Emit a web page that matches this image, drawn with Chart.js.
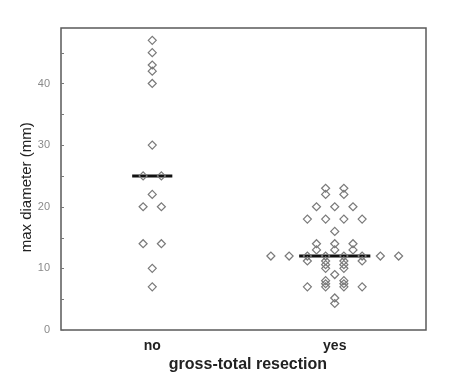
<!DOCTYPE html>
<html>
<head>
<meta charset="utf-8">
<script src="https://cdn.jsdelivr.net/npm/chart.js@4.4.1/dist/chart.umd.min.js"></script>
<style>
  html, body { margin: 0; padding: 0; background: #fff; }
  #wrap { width: 450px; height: 378px; }
</style>
</head>
<body>
<div id="wrap"><canvas id="chart"></canvas></div>
<script>
/* --- Data ---------------------------------------------------- */
const GROUPS = ['no', 'yes'];
const NO_VALUES = [47, 45, 43, 42, 40, 30, 25, 25, 22, 20, 20, 14, 14, 10, 7];
const YES_VALUES = [
  23, 23, 22, 22, 20, 20, 20, 18, 18, 18, 18, 16,
  14, 14, 14, 13, 13, 13,
  12, 12, 12, 12, 12, 12, 12, 12,
  11.2, 11.2, 11.2, 11.2, 10.6, 10.6, 10, 10, 9,
  8, 8, 7.5, 7.5, 7, 7, 7, 7, 5.2, 4.3
];
const Y_TICKS = [0, 5, 10, 15, 20, 25, 30, 35, 40, 45];

const FONT = 'Arial, "Liberation Sans", sans-serif';
const SLOT = 0.1;                  // horizontal gap between tied points
const MEDIAN_HALF = [0.11, 0.195]; // half length of median bars

/* --- Helpers ------------------------------------------------- */
// spread tied values side by side around the group position
function spread(values, pos) {
  const counts = {}, seen = {};
  values.forEach(v => counts[v] = (counts[v] || 0) + 1);
  return values.map(v => {
    seen[v] = seen[v] === undefined ? 0 : seen[v] + 1;
    return { x: pos + (seen[v] - (counts[v] - 1) / 2) * SLOT, y: v };
  });
}

function median(values) {
  const s = [...values].sort((a, b) => a - b);
  const m = Math.floor(s.length / 2);
  return s.length % 2 ? s[m] : (s[m - 1] + s[m]) / 2;
}

const SERIES = [NO_VALUES, YES_VALUES];

const pointSets = SERIES.map((vals, i) => ({
  type: 'scatter',
  data: spread(vals, i + 1),
  pointStyle: 'rectRot',
  pointRadius: 4,
  pointHoverRadius: 4,
  pointBorderWidth: 1.2,
  pointBorderColor: '#7a7a7a',
  pointBackgroundColor: 'rgba(0,0,0,0)',
  order: 1,
}));

const medianSets = SERIES.map((vals, i) => {
  const m = median(vals);
  return {
    type: 'line',
    data: [{ x: i + 1 - MEDIAN_HALF[i], y: m }, { x: i + 1 + MEDIAN_HALF[i], y: m }],
    borderColor: '#111',
    borderWidth: 3,
    pointRadius: 0,
    fill: false,
    order: 2,
  };
});

/* --- Frame + inner tick marks -------------------------------- */
const framePlugin = {
  id: 'frame',
  afterDraw(chart) {
    const { ctx, chartArea: a } = chart;
    const y = chart.scales.y;
    ctx.save();
    ctx.strokeStyle = '#5a5a5a';
    ctx.lineWidth = 1.5;
    ctx.strokeRect(a.left, a.top, a.right - a.left, a.bottom - a.top);
    ctx.lineWidth = 1;
    ctx.strokeStyle = '#777';
    ctx.beginPath();
    for (const t of y.ticks) {
      const py = Math.round(y.getPixelForValue(t.value)) + 0.5;
      ctx.moveTo(a.left, py);
      ctx.lineTo(a.left + 3, py);
    }
    ctx.stroke();
    ctx.restore();
  }
};

new Chart(document.getElementById('chart'), {
  data: { datasets: [...medianSets, ...pointSets] },
  options: {
    responsive: true,
    maintainAspectRatio: false,
    animation: false,
    layout: { padding: { top: 28, right: 24, left: 0, bottom: 0 } },
    plugins: { legend: { display: false }, tooltip: { enabled: false } },
    scales: {
      x: {
        type: 'linear',
        min: 0.5,
        max: 2.5,
        afterBuildTicks: s => { s.ticks = GROUPS.map((_, i) => ({ value: i + 1 })); },
        afterFit: s => { s.height = 48; },
        grid: { display: false },
        border: { display: false },
        ticks: {
          callback: v => GROUPS[v - 1],
          color: '#222',
          font: { family: FONT, size: 14, weight: 'bold' },
          padding: 0,
          maxRotation: 0,
        },
        title: {
          display: true,
          text: '  gross-total resection',
          color: '#222',
          font: { family: FONT, size: 16, weight: 'bold' },
          padding: { top: 0, bottom: 4 },
        },
      },
      y: {
        min: 0,
        max: 49,
        afterBuildTicks: s => { s.ticks = Y_TICKS.map(v => ({ value: v })); },
        afterFit: s => { s.width = 61; },
        grid: { display: false },
        border: { display: false },
        ticks: {
          callback: v => (v % 10 === 0 ? v : ''),
          color: '#8a8a8a',
          font: { family: FONT, size: 11 },
          padding: 3,
        },
        title: {
          display: true,
          text: 'max diameter (mm)    ',
          color: '#222',
          font: { family: FONT, size: 15 },
          padding: { top: 18, bottom: 0 },
        },
      },
    },
  },
  plugins: [framePlugin],
});
</script>
</body>
</html>
